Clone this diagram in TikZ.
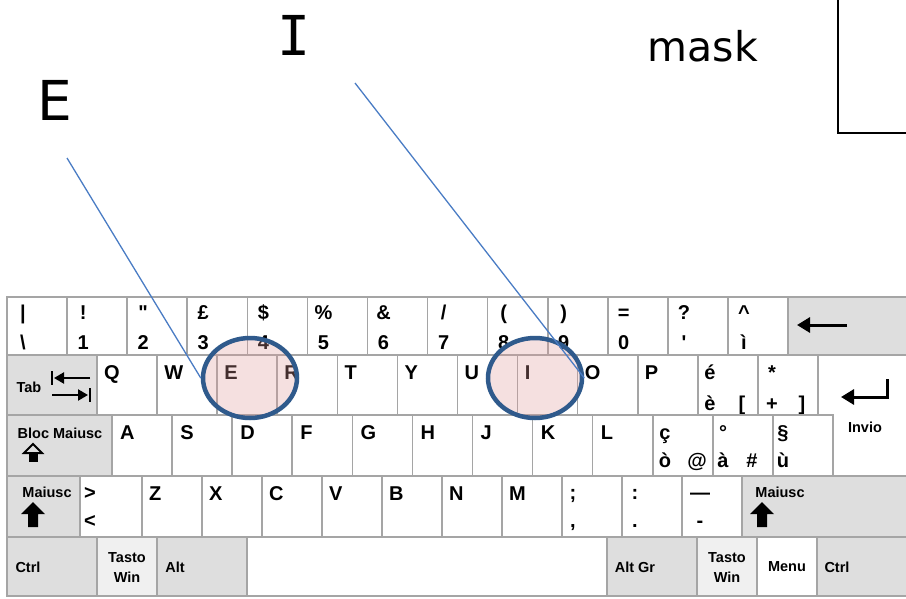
\documentclass[tikz,border=0pt]{standalone}
\usepackage{fontspec}
\setmainfont{Liberation Sans}
\newfontfamily\calloutfont{DejaVu Sans}
\newfontfamily\calloutmono{DejaVu Sans Mono}
\usetikzlibrary{shapes.geometric,arrows.meta}

\definecolor{keyline}{HTML}{A5A5A5}
\definecolor{keygray}{HTML}{DEDEDE}
\definecolor{keylight}{HTML}{F0F0F0}
\definecolor{ringblue}{HTML}{2F5A8C}
\definecolor{leaderblue}{HTML}{4A7CC4}
\definecolor{ringfill}{HTML}{E09A9A}

\tikzset{
  keyface/.style={draw=keyline, line width=1.6pt, fill=white},
  graykey/.style={keyface, fill=keygray},
  lightkey/.style={keyface, fill=keylight},
  big/.style={font=\fontsize{20}{20}\selectfont\bfseries, inner sep=0pt},
  small/.style={font=\fontsize{14.5}{20}\selectfont\bfseries, inner sep=0pt, align=center},
  callout/.style={font=\calloutfont\fontsize{55}{55}\selectfont, inner sep=0pt},
  ring/.style={ellipse, draw=ringblue, line width=4.5pt, fill=ringfill,
    fill opacity=0.3, minimum width=94pt, minimum height=80pt, inner sep=0pt},
  leader/.style={draw=leaderblue, line width=1.3pt},
  kbarrow/.style={line width=3pt, -{Triangle[length=13pt,width=15pt]}},
  tabarrow/.style={line width=2.2pt, -{Triangle[length=10pt,width=11pt]}},
  shiftarrow/.pic={\fill[black] (0,0) -- (12,12) -- (5,12) -- (5,25) -- (-5,25)
    -- (-5,12) -- (-12,12) -- cycle;},
  capsarrow/.pic={\draw[black, line width=2pt, line join=miter] (0,1) -- (9,10) -- (-9,10) -- cycle;
    \fill[black] (-4.5,10) rectangle (4.5,19);},
}

\begin{document}
\begin{tikzpicture}[x=1pt, y=-1pt]
\useasboundingbox (0,0) rectangle (906,598);

% ---------- number row ----------
\foreach \kt/\kb [count=\i from 0] in {|/\textbackslash, !/1, \textquotedbl/2, £/3, \$/4,
    \%/5, \&/6, {/}/7, {(}/8, {)}/9, =/0, ?/\textquotesingle, \textasciicircum/ì} {
  \path[keyface] ({7+60.08*\i},297) rectangle ({67.08+60.08*\i},355);
  \node[big, anchor=base] (num\i up) at ({23+60.08*\i},319) {\kt};
  \node[big, anchor=base] (num\i dn) at ({23+60.08*\i},349) {\kb};
}
\path[graykey] (788,297) rectangle (912,355);
\draw[kbarrow] (847,325) -- (797,325);

% ---------- top letter row ----------
\path[graykey] (7,355) rectangle (97,415);
\node[small] (tab) at (29,387) {Tab};
\draw[tabarrow] (90,378) -- (54,378);
\draw[line width=2pt] (52,371) -- (52,385);
\draw[tabarrow] (52,395) -- (88,395);
\draw[line width=2pt] (90,388) -- (90,402);
\foreach \l [count=\i from 0] in {Q,W,E,R,T,Y,U,I,O,P} {
  \path[keyface] ({97+60.08*\i},355) rectangle ({157.08+60.08*\i},415);
  \node[big, anchor=base west] (top\i) at ({104+60.08*\i},379) {\l};
}
\path[keyface] (697.8,355) rectangle (757.9,415);
\path[keyface] (757.9,355) rectangle (818,415);
\node[big, anchor=base] (egrave up) at (710,379) {é};
\node[big, anchor=base] (egrave dn) at (710,410) {è};
\node[big, anchor=base] (bracketL) at (742,410) {[};
\node[big, anchor=base] (plus up) at (772,379) {*};
\node[big, anchor=base] (plus dn) at (772,410) {+};
\node[big, anchor=base] (bracketR) at (802,410) {]};
% enter key (L shape)
\path[keyface] (818,355) -- (912,355) -- (912,476) -- (832,476) -- (832,415)
  -- (818,415) -- cycle;
\draw[kbarrow] (887,379) -- (887,397) -- (841,397);
\node[small] (invio) at (865,427) {Invio};

% ---------- home row ----------
\path[graykey] (7,415) rectangle (112,476);
\node[small] (caps) at (60,433) {Bloc Maiusc};
\pic at (33,443) {capsarrow};
\foreach \l [count=\i from 0] in {A,S,D,F,G,H,J,K,L} {
  \path[keyface] ({112+60.08*\i},415) rectangle ({172.08+60.08*\i},476);
  \node[big, anchor=base west] (home\i) at ({120+60.08*\i},439) {\l};
}
\path[keyface] (652.7,415) rectangle (712.8,476);
\path[keyface] (712.8,415) rectangle (772.9,476);
\path[keyface] (772.9,415) rectangle (833,476);
\node[big, anchor=base] (cced) at (665,439) {ç};
\node[big, anchor=base] (ograve) at (665,467) {ò};
\node[big, anchor=base] (at) at (697,467) {@};
\node[big, anchor=base] (degree) at (723,439) {°};
\node[big, anchor=base] (agrave) at (723,467) {à};
\node[big, anchor=base] (hash) at (752,467) {\#};
\node[big, anchor=base] (section) at (783,439) {§};
\node[big, anchor=base] (ugrave) at (783,467) {ù};

% ---------- bottom letter row ----------
\path[graykey] (7,476) rectangle (80,537);
\node[small] (shiftL) at (47,492) {Maiusc};
\pic at (33,502) {shiftarrow};
\path[keyface] (80,476) rectangle (142,537);
\node[big, anchor=base] (greater) at (90,499) {>};
\node[big, anchor=base] (less) at (90,527) {<};
\foreach \l [count=\i from 0] in {Z,X,C,V,B,N,M} {
  \path[keyface] ({142+60*\i},476) rectangle ({202+60*\i},537);
  \node[big, anchor=base west] (low\i) at ({149+60*\i},500) {\l};
}
\path[keyface] (562,476) rectangle (622,537);
\path[keyface] (622,476) rectangle (682,537);
\path[keyface] (682,476) rectangle (742,537);
\node[big, anchor=base] (semicolon) at (573,499) {;};
\node[big, anchor=base] (comma) at (573,527) {,};
\node[big, anchor=base] (colon) at (635,499) {:};
\node[big, anchor=base] (period) at (635,527) {.};
\node[big, anchor=base] (underscore) at (700,499) {—};
\node[big, anchor=base] (hyphen) at (700,527) {-};
\path[graykey] (742,476) rectangle (912,537);
\node[small] (shiftR) at (780,492) {Maiusc};
\pic at (762,502) {shiftarrow};

% ---------- space row ----------
\path[graykey] (7,537) rectangle (97,596);
\path[lightkey] (97,537) rectangle (157,596);
\path[graykey] (157,537) rectangle (247,596);
\path[keyface] (247,537) rectangle (607,596);
\path[graykey] (607,537) rectangle (697,596);
\path[lightkey] (697,537) rectangle (757,596);
\path[keyface] (757,537) rectangle (817,596);
\path[graykey] (817,537) rectangle (912,596);
\node[small] (ctrlL) at (28,567) {Ctrl};
\node[small] (winL) at (127,568) {Tasto\\Win};
\node[small] (alt) at (175,567) {Alt};
\node[small] (altgr) at (635,567) {Alt Gr};
\node[small] (winR) at (727,568) {Tasto\\Win};
\node[small] (menu) at (787,567) {Menu};
\node[small] (ctrlR) at (837,567) {Ctrl};

% ---------- highlighted keys and callouts ----------
\node[ring] (ringE) at (250,378) {};
\node[ring] (ringI) at (535,378) {};

\node[callout] (labelE) at (55,100) {E};
\node[callout, font=\calloutmono\fontsize{55}{55}\selectfont] (labelI) at (294,35) {I};
\node[font=\calloutfont\fontsize{41}{41}\selectfont, inner sep=0pt] (labelmask) at (703,46) {mask};

\coordinate (tailE) at (67,158);
\coordinate (tailI) at (355,83);
\draw[leader] (tailE) -- (ringE.west);
\draw[leader] (tailI) -- (ringI.east);

% mask frame, running off the top right
\draw[line width=1.2pt] (838,-5) rectangle (915,133);
\end{tikzpicture}
\end{document}
